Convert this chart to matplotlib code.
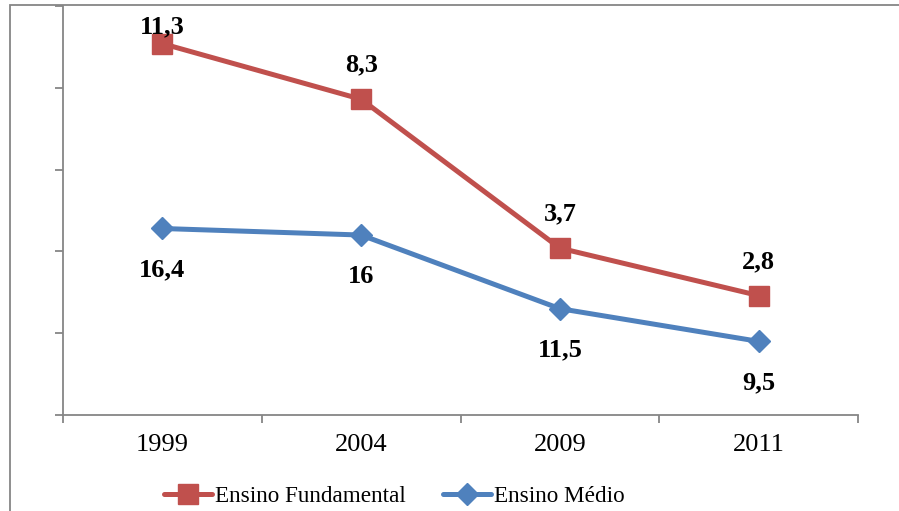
import matplotlib.pyplot as plt
from matplotlib.patches import Rectangle

plt.rcParams['font.family'] = ['Liberation Serif', 'DejaVu Serif']

# Data (stacked: the Fundamental line sits on top of Medio)
years = ['1999', '2004', '2009', '2011']
medio = [16.4, 16.0, 11.5, 9.5]
fundamental = [11.3, 8.3, 3.7, 2.8]

red = '#C0504D'
blue = '#4F81BD'
axis_gray = '#868686'
font_size = 19

fig = plt.figure(figsize=(8.99, 5.11), dpi=100)
ax = fig.add_axes([63 / 899, 1 - 415 / 511, 795 / 899, 409 / 511])

x = list(range(len(years)))
stacked_top = [m + f for m, f in zip(medio, fundamental)]

ax.plot(x, stacked_top, color=red, lw=3.6, marker='s', ms=14,
        solid_capstyle='round', label='Ensino Fundamental')
ax.plot(x, medio, color=blue, lw=3.6, marker='D', ms=11,
        solid_capstyle='round', label='Ensino Médio')

# Value labels
red_offsets = [17, 34, 34, 34]
for xi, yi, v, off in zip(x, stacked_top, fundamental, red_offsets):
    ax.annotate(f'{v:g}'.replace('.', ','), (xi, yi), xytext=(0, off),
                textcoords='offset pixels', ha='center', va='center',
                fontsize=font_size, fontweight='bold', annotation_clip=False)
for xi, yi, v in zip(x, medio, medio):
    ax.annotate(f'{v:g}'.replace('.', ','), (xi, yi), xytext=(0, -41),
                textcoords='offset pixels', ha='center', va='center',
                fontsize=font_size, fontweight='bold')

ax.set_xlim(-0.5, len(years) - 0.5)
ax.set_ylim(5, 30)
ax.set_xticks(x)
ax.set_xticklabels(years, fontsize=font_size)
ax.set_xticks([i - 0.5 for i in range(len(years) + 1)], minor=True)
ax.tick_params(axis='x', which='major', length=0, pad=14)
ax.tick_params(axis='x', which='minor', length=6, width=1.3, color=axis_gray, direction='out')
ax.set_yticks([5, 10, 15, 20, 25, 30])
ax.set_yticklabels([])
ax.tick_params(axis='y', length=6, width=1.3, color=axis_gray, direction='out')

for s in ['top', 'right']:
    ax.spines[s].set_visible(False)
for s in ['left', 'bottom']:
    ax.spines[s].set_color(axis_gray)
    ax.spines[s].set_linewidth(1.3)

fig.legend(loc='center', bbox_to_anchor=(394 / 899, 1 - 496 / 511), ncol=2,
           frameon=False, fontsize=16.7, handlelength=2.1,
           handletextpad=0.1, columnspacing=1.6)

# Chart area border (top and left edges visible)
fig.patches.append(Rectangle((10 / 899, -0.5), 2, 0.5 + (1 - 5 / 511),
                             transform=fig.transFigure, fill=False,
                             edgecolor=axis_gray, lw=1.3))

fig.savefig('out.png', dpi=100)
